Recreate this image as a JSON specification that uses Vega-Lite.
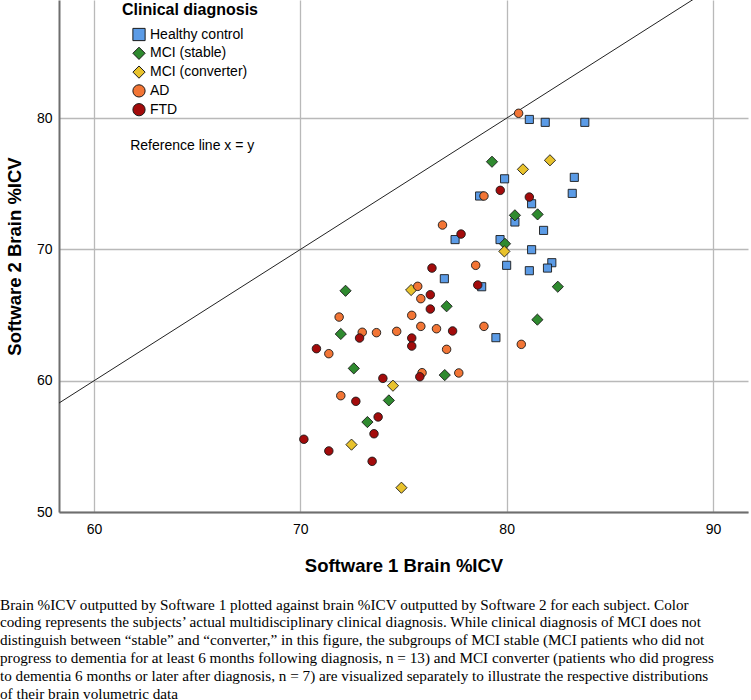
{
  "$schema": "https://vega.github.io/schema/vega-lite/v6.json",
  "width": 689,
  "height": 512,
  "autosize": {"type": "none"},
  "padding": {"left": 59, "top": 0, "right": 3, "bottom": 188},
  "background": "white",
  "config": {
    "view": {"stroke": null},
    "font": "Liberation Sans",
    "axis": {
      "labelFont": "Liberation Sans",
      "labelFontSize": 14,
      "labelColor": "#000000",
      "titleFont": "Liberation Sans",
      "titleFontSize": 18.5,
      "titleFontWeight": "bold",
      "titleColor": "#000000",
      "ticks": false,
      "domainColor": "#6e6e6e",
      "domainWidth": 2,
      "gridColor": "#b9b9b9",
      "gridWidth": 1.3
    }
  },
  "title": {
    "text": [
      "Brain %ICV outputted by Software 1 plotted against brain %ICV outputted by Software 2 for each subject. Color",
      "coding represents the subjects’ actual multidisciplinary clinical diagnosis. While clinical diagnosis of MCI does not",
      "distinguish between “stable” and “converter,” in this figure, the subgroups of MCI stable (MCI patients who did not",
      "progress to dementia for at least 6 months following diagnosis, n = 13) and MCI converter (patients who did progress",
      "to dementia 6 months or later after diagnosis, n = 7) are visualized separately to illustrate the respective distributions",
      "of their brain volumetric data"
    ],
    "orient": "bottom",
    "anchor": "start",
    "frame": "group",
    "dx": -59,
    "offset": 23,
    "font": "Liberation Serif",
    "fontSize": 15.2,
    "fontWeight": "normal",
    "lineHeight": 17.8,
    "color": "#000000"
  },
  "datasets": {
    "pts": [
      {"group": "Healthy control", "s1": 81.1, "s2": 79.9},
      {"group": "Healthy control", "s1": 81.87, "s2": 79.68},
      {"group": "Healthy control", "s1": 83.79, "s2": 79.68},
      {"group": "Healthy control", "s1": 79.9, "s2": 75.38},
      {"group": "Healthy control", "s1": 83.28, "s2": 75.49},
      {"group": "Healthy control", "s1": 83.18, "s2": 74.27},
      {"group": "Healthy control", "s1": 78.69, "s2": 74.07},
      {"group": "Healthy control", "s1": 81.21, "s2": 73.48},
      {"group": "Healthy control", "s1": 80.4, "s2": 72.09},
      {"group": "Healthy control", "s1": 81.79, "s2": 71.45},
      {"group": "Healthy control", "s1": 77.5, "s2": 70.75},
      {"group": "Healthy control", "s1": 79.68, "s2": 70.75},
      {"group": "Healthy control", "s1": 81.21, "s2": 69.98},
      {"group": "Healthy control", "s1": 82.19, "s2": 68.99},
      {"group": "Healthy control", "s1": 81.98, "s2": 68.58},
      {"group": "Healthy control", "s1": 80.0, "s2": 68.79},
      {"group": "Healthy control", "s1": 81.1, "s2": 68.38},
      {"group": "Healthy control", "s1": 76.98, "s2": 67.77},
      {"group": "Healthy control", "s1": 78.79, "s2": 67.16},
      {"group": "Healthy control", "s1": 79.48, "s2": 63.28},
      {"group": "MCI (stable)", "s1": 79.29, "s2": 76.68},
      {"group": "MCI (stable)", "s1": 80.4, "s2": 72.6},
      {"group": "MCI (stable)", "s1": 81.5, "s2": 72.67},
      {"group": "MCI (stable)", "s1": 79.92, "s2": 70.43},
      {"group": "MCI (stable)", "s1": 82.48, "s2": 67.16},
      {"group": "MCI (stable)", "s1": 81.49, "s2": 64.65},
      {"group": "MCI (stable)", "s1": 77.09, "s2": 65.67},
      {"group": "MCI (stable)", "s1": 72.19, "s2": 66.85},
      {"group": "MCI (stable)", "s1": 71.96, "s2": 63.56},
      {"group": "MCI (stable)", "s1": 72.59, "s2": 60.94},
      {"group": "MCI (stable)", "s1": 77.0, "s2": 60.43},
      {"group": "MCI (stable)", "s1": 74.29, "s2": 58.5},
      {"group": "MCI (stable)", "s1": 73.25, "s2": 56.85},
      {"group": "MCI (converter)", "s1": 82.1, "s2": 76.79},
      {"group": "MCI (converter)", "s1": 80.79, "s2": 76.1},
      {"group": "MCI (converter)", "s1": 79.89, "s2": 69.85},
      {"group": "MCI (converter)", "s1": 75.37, "s2": 66.91},
      {"group": "MCI (converter)", "s1": 74.49, "s2": 59.62},
      {"group": "MCI (converter)", "s1": 72.48, "s2": 55.13},
      {"group": "MCI (converter)", "s1": 74.9, "s2": 51.85},
      {"group": "AD", "s1": 80.58, "s2": 80.37},
      {"group": "AD", "s1": 78.9, "s2": 74.07},
      {"group": "AD", "s1": 76.89, "s2": 71.86},
      {"group": "AD", "s1": 78.5, "s2": 68.79},
      {"group": "AD", "s1": 75.69, "s2": 67.19},
      {"group": "AD", "s1": 75.84, "s2": 66.25},
      {"group": "AD", "s1": 71.88, "s2": 64.85},
      {"group": "AD", "s1": 75.4, "s2": 64.98},
      {"group": "AD", "s1": 75.84, "s2": 64.14},
      {"group": "AD", "s1": 76.6, "s2": 63.96},
      {"group": "AD", "s1": 78.9, "s2": 64.14},
      {"group": "AD", "s1": 73.0, "s2": 63.69},
      {"group": "AD", "s1": 73.69, "s2": 63.66},
      {"group": "AD", "s1": 74.67, "s2": 63.76},
      {"group": "AD", "s1": 80.71, "s2": 62.77},
      {"group": "AD", "s1": 77.09, "s2": 62.39},
      {"group": "AD", "s1": 71.38, "s2": 62.06},
      {"group": "AD", "s1": 75.9, "s2": 60.61},
      {"group": "AD", "s1": 77.68, "s2": 60.59},
      {"group": "AD", "s1": 71.96, "s2": 58.86},
      {"group": "FTD", "s1": 79.69, "s2": 74.5},
      {"group": "FTD", "s1": 81.1, "s2": 73.99},
      {"group": "FTD", "s1": 77.79, "s2": 71.17},
      {"group": "FTD", "s1": 76.38, "s2": 68.58},
      {"group": "FTD", "s1": 78.6, "s2": 67.29},
      {"group": "FTD", "s1": 76.3, "s2": 66.55},
      {"group": "FTD", "s1": 76.3, "s2": 65.46},
      {"group": "FTD", "s1": 77.38, "s2": 63.79},
      {"group": "FTD", "s1": 72.87, "s2": 63.25},
      {"group": "FTD", "s1": 75.4, "s2": 63.25},
      {"group": "FTD", "s1": 75.4, "s2": 62.64},
      {"group": "FTD", "s1": 70.78, "s2": 62.44},
      {"group": "FTD", "s1": 74.0, "s2": 60.18},
      {"group": "FTD", "s1": 75.79, "s2": 60.3},
      {"group": "FTD", "s1": 72.69, "s2": 58.43},
      {"group": "FTD", "s1": 73.77, "s2": 57.24},
      {"group": "FTD", "s1": 73.57, "s2": 55.96},
      {"group": "FTD", "s1": 70.17, "s2": 55.54},
      {"group": "FTD", "s1": 71.38, "s2": 54.65},
      {"group": "FTD", "s1": 73.48, "s2": 53.86}
    ],
    "refline": [
      {"s1": 50, "s2": 50},
      {"s1": 100, "s2": 100}
    ],
    "note": [
      {"s1": 61.75, "s2": 77.9, "label": "Reference line x = y"}
    ]
  },
  "encoding": {
    "x": {
      "field": "s1",
      "type": "quantitative",
      "scale": {"domain": [58.3, 91.7], "nice": false, "zero": false},
      "axis": {"title": "Software 1 Brain %ICV", "values": [60, 70, 80, 90], "labelPadding": 10, "titlePadding": 20}
    },
    "y": {
      "field": "s2",
      "type": "quantitative",
      "scale": {"domain": [50, 89], "nice": false, "zero": false},
      "axis": {"title": "Software 2 Brain %ICV", "values": [50, 60, 70, 80], "labelPadding": 7, "titlePadding": 12}
    }
  },
  "layer": [
    {
      "data": {"name": "refline"},
      "mark": {"type": "line", "color": "#222222", "strokeWidth": 1, "clip": true},
      "encoding": {}
    },
    {
      "data": {"name": "note"},
      "mark": {"type": "text", "align": "left", "baseline": "middle", "fontSize": 14, "font": "Liberation Sans", "color": "#000000"},
      "encoding": {"text": {"field": "label"}}
    },
    {
      "data": {"name": "pts"},
      "mark": {"type": "point", "filled": true, "opacity": 1, "stroke": "#1a1a1a", "strokeWidth": 0.9},
      "encoding": {
        "color": {
          "field": "group",
          "type": "nominal",
          "scale": {
            "domain": ["Healthy control", "MCI (stable)", "MCI (converter)", "AD", "FTD"],
            "range": ["#5b9be6", "#2f8a2f", "#e8c22c", "#f27535", "#a30b0b"]
          },
          "legend": {
            "title": "Clinical diagnosis",
            "orient": "none",
            "legendX": 63,
            "legendY": 1.5,
            "titleFont": "Liberation Sans",
            "titleFontSize": 16,
            "titleFontWeight": "bold",
            "titleColor": "#000000",
            "titleAnchor": "middle",
            "titlePadding": 10,
            "labelFont": "Liberation Sans",
            "labelFontSize": 14,
            "labelColor": "#000000",
            "labelOffset": 4,
            "symbolSize": 150,
            "symbolStrokeColor": "#1a1a1a",
            "symbolStrokeWidth": 1,
            "rowPadding": 0.8,
            "encode": {
              "symbols": {
                "update": {
                  "size": {"signal": "indexof(datum.value, 'MCI') === 0 ? 205 : (datum.value === 'Healthy control' ? 137 : 144)"},
                  "stroke": {"value": "#1a1a1a"},
                  "strokeWidth": {"value": 1}
                }
              }
            }
          }
        },
        "shape": {
          "field": "group",
          "type": "nominal",
          "scale": {
            "domain": ["Healthy control", "MCI (stable)", "MCI (converter)", "AD", "FTD"],
            "range": ["square", "diamond", "diamond", "circle", "circle"]
          },
          "legend": {
            "title": "Clinical diagnosis",
            "orient": "none",
            "legendX": 63,
            "legendY": 1.5
          }
        },
        "size": {
          "condition": [
            {"test": "indexof(datum.group, 'MCI') === 0", "value": 125},
            {"test": "datum.group === 'Healthy control'", "value": 66}
          ],
          "value": 72
        }
      }
    }
  ]
}
